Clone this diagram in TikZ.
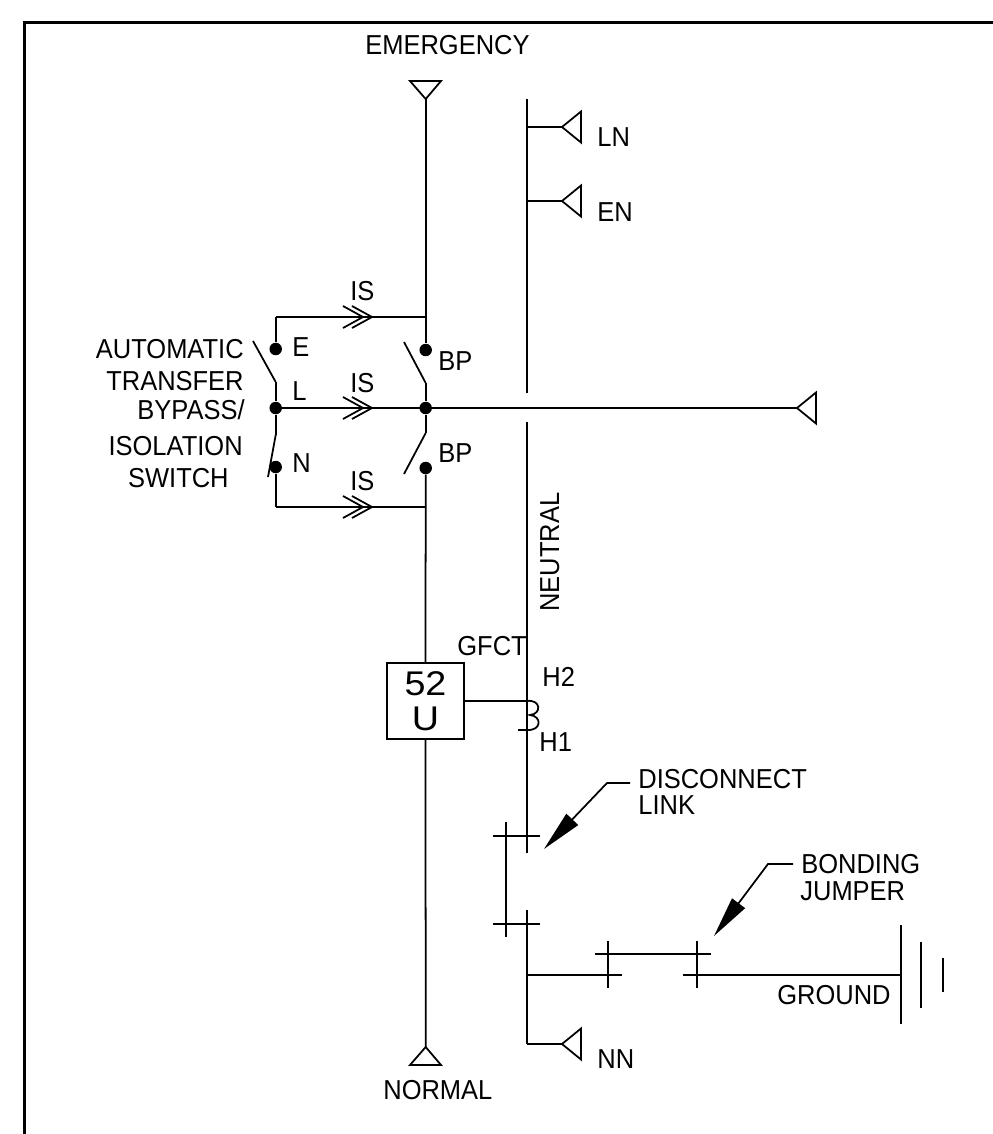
\documentclass[tikz,border=0pt]{standalone}
\usepackage{fontspec}
\setmainfont[FakeStretch=0.93]{Liberation Sans}
\newfontfamily\boxfont[FakeStretch=1.1]{Liberation Sans}
\usetikzlibrary{arrows.meta,positioning}
\begin{document}
\begin{tikzpicture}[
      x=0.02cm,y=-0.02cm,
      mywire/.style={line width=1pt},
      myframe/.style={line width=1.2pt},
      myleader/.style={line width=1pt,-{Triangle[length=0.82cm,width=0.32cm]}},
      mydot/.style={
         circle,
         fill=black,
         inner sep=0pt,
         minimum size=0.25cm},
      mytext/.style={
         rectangle,
         inner sep=0pt,
         anchor=base west,
         font=\fontsize{15.6}{17}\selectfont},
      mybox/.style={
         rectangle,
         draw=black,
         line width=1pt,
         align=center,
         inner sep=0pt,
         minimum width=1.54cm,
         minimum height=1.52cm,
         font=\boxfont\fontsize{19.5}{20}\selectfont},
      ]
      \useasboundingbox (0,0) rectangle (993,1134);
      \foreach \n/\x/\y in {
        fa/24.5/1134, fb/24.5/22.5, fc/993/22.5,
        etip/425.7/99, ela/410/81, elb/441/81,
        ntip/425.7/1047, nla/410/1065, nlb/441/1065,
        nta/526.7/99, ntb/526.7/393, ntc/526.7/422, ntd/526.7/853,
        nte/526.7/910, ntf/526.7/1044,
        ln/526.7/127, lnt/562/127, en/526.7/201, ent/562/201, nnt/562/1044,
        xfr/797/408,
        ise/275.7/317, isep/425.7/317, isn/275.7/507, isnp/425.7/507,
        sea/253/341, seb/275.7/382, sna/275.7/435, snb/268/477,
        pea/404/342, peb/425.7/383, pna/425.7/433, pnb/404/474,
        ct/526.7/701,
        lka/506/822, lkb/506/937,
        xaa/493/836, xab/540/836, xba/493/924, xbb/540/924,
        gnd/526.7/975, gta/622/975, gtb/683/975, gtc/900.7/975,
        jpa/595/954, jpb/711/954,
        cva/608/941, cvb/608/988, cwa/697/941, cwb/697/988,
        gaa/900.7/925, gab/900.7/1024, gba/921/942, gbb/921/1008,
        gca/943/958, gcb/943/992,
        dla/630/783, dlb/607/783, dlc/544/849,
        bja/793/864, bjb/768/864, bjc/714/936}
        \coordinate (\n) at (\x,\y);
      \node[mydot] (de) at (275.7,349) {};
      \node[mydot] (dl) at (275.7,408) {};
      \node[mydot] (dn) at (275.7,467) {};
      \node[mydot] (dpe) at (425.7,350) {};
      \node[mydot] (dpl) at (425.7,408) {};
      \node[mydot] (dpn) at (425.7,468) {};
      \node[mybox] (ubox) at (425.5,701) {52\\U};
      \node[mytext] (t1) at (365,54) {EMERGENCY};
      \node[mytext] (t2) at (383,1099) {NORMAL};
      \node[mytext] (t3) at (597,146) {LN};
      \node[mytext] (t4) at (597,221) {EN};
      \node[mytext] (t5) at (597,1068) {NN};
      \node[mytext] (t6) at (292,356) {E};
      \node[mytext] (t7) at (292,400) {L};
      \node[mytext] (t8) at (292,472) {N};
      \node[mytext] (t9) at (438,370) {BP};
      \node[mytext] (t10) at (438,462) {BP};
      \node[mytext] (t11) at (350,300) {IS};
      \node[mytext] (t12) at (350,392) {IS};
      \node[mytext] (t13) at (350,490) {IS};
      \node[mytext,anchor=base east] (t14) at (244,358) {AUTOMATIC};
      \node[mytext,anchor=base east] (t15) at (244,390) {TRANSFER};
      \node[mytext,anchor=base east] (t16) at (245,419) {BYPASS/};
      \node[mytext,anchor=base east] (t17) at (243,455) {ISOLATION};
      \node[mytext,anchor=base east] (t18) at (229,487) {SWITCH};
      \node[mytext,rotate=90] (t19) at (559,612) {NEUTRAL};
      \node[mytext] (t20) at (457,655) {GFCT};
      \node[mytext] (t21) at (542,686) {H2};
      \node[mytext] (t22) at (539,751) {H1};
      \node[mytext] (t23) at (638,788) {DISCONNECT};
      \node[mytext] (t24) at (638,814) {LINK};
      \node[mytext] (t25) at (801,873) {BONDING};
      \node[mytext] (t26) at (800,900) {JUMPER};
      \node[mytext] (t27) at (777,1004) {GROUND};
      \draw[myframe] (fa) -- (fb) -- (fc);
      \foreach \i/\j in {
        etip/dpe, ubox/ntip, dpn/ubox,
        nta/ntb, ntc/ntd, nte/ntf,
        ln/lnt, en/ent, ntf/nnt,
        dl/xfr, de/ise, ise/isep, dn/isn, isn/isnp,
        sea/seb, seb/dl, dl/sna, sna/snb,
        pea/peb, peb/dpl, dpl/pna, pna/pnb,
        ubox/ct,
        lka/lkb, xaa/xab, xba/xbb,
        gnd/gta, gtb/gtc, jpa/jpb, cva/cvb, cwa/cwb,
        gaa/gab, gba/gbb, gca/gcb}
        \draw[mywire] (\i) -- (\j);
      \draw[mywire] (ela) -- (etip) -- (elb) -- cycle;
      \draw[mywire] (nla) -- (ntip) -- (nlb) -- cycle;
      \foreach \c in {lnt,ent,nnt,xfr}
        \draw[mywire] (\c) -- ++(19,-15.5) -- ++(0,31) -- cycle;
      \foreach \yy in {317,408,507}
        \foreach \xx in {372,363}
          \draw[mywire] (\xx-20,\yy-11) -- (\xx,\yy) -- (\xx-20,\yy+11);
      \draw[mywire] (513,701) -- (ct) .. controls (541,699) and (542,714) .. (530,715)
         .. controls (542,716) and (542,731) .. (526.7,730) -- (518,730);
      \draw[myleader] (dla) -- (dlb) -- (dlc);
      \draw[myleader] (bja) -- (bjb) -- (bjc);
\end{tikzpicture}
\end{document}
